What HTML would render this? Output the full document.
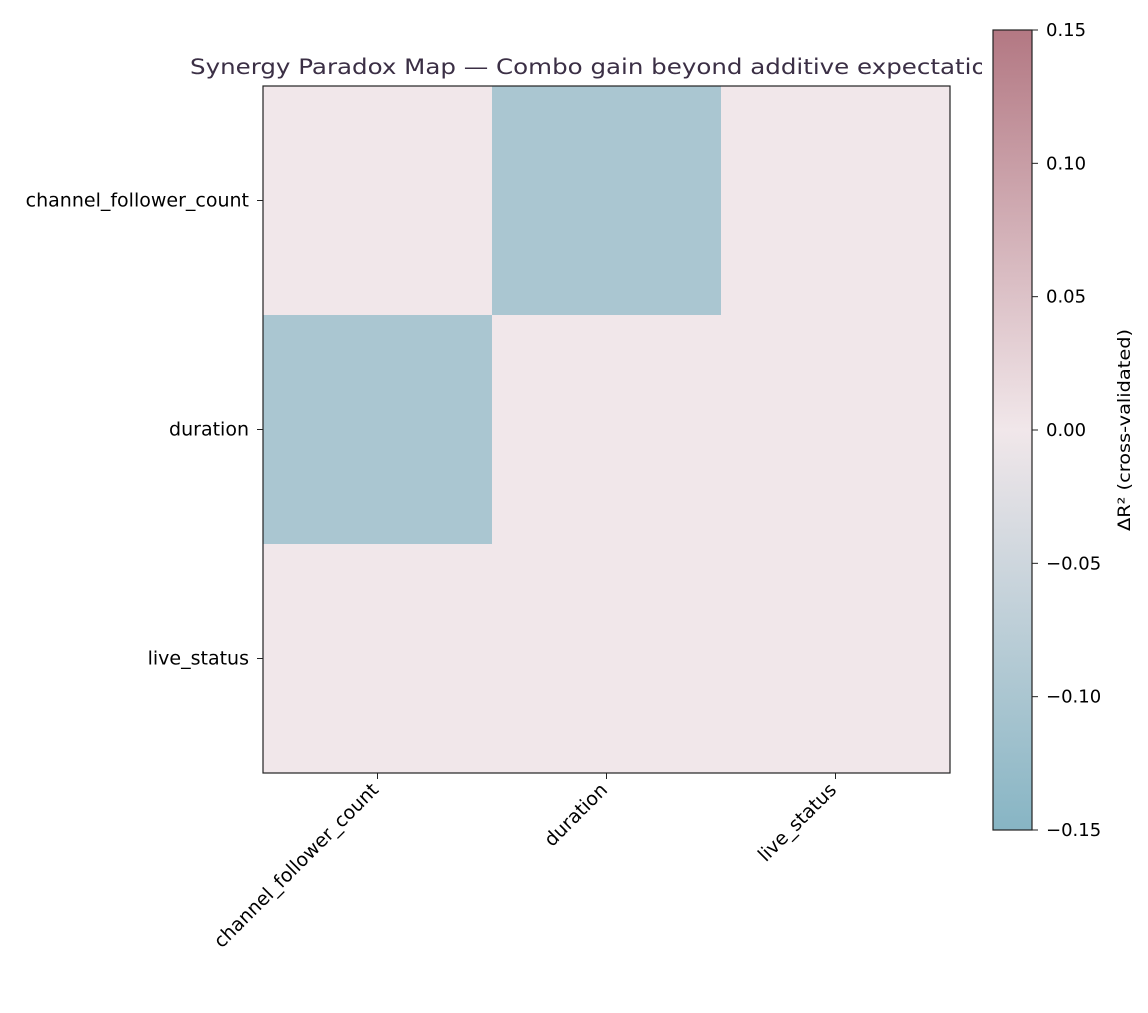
<!DOCTYPE html>
<html><head><meta charset="utf-8"><style>
body{margin:0;background:#fff;font-family:"Liberation Sans","DejaVu Sans",sans-serif}
</style></head><body>
<svg id="chart" width="1148" height="1008" font-family="DejaVu Sans, Liberation Sans, sans-serif">
<defs>
<linearGradient id="cbgrad" x1="0" y1="1" x2="0" y2="0">
<stop offset="0" stop-color="#87b5c4"/><stop offset="0.5" stop-color="#f1e7ea"/><stop offset="1" stop-color="#b37883"/>
</linearGradient>
</defs>
<text x="190" y="74" font-size="21" fill="#3b2f45" textLength="812" lengthAdjust="spacingAndGlyphs">Synergy Paradox Map — Combo gain beyond additive expectation</text>
<g id="cells"></g>
<rect x="263" y="86" width="687" height="687" fill="none" stroke="#222" stroke-width="1.2"/>
<g id="ticks"></g>
<rect x="982" y="20" width="166" height="70" fill="#fff"/>
<rect x="993" y="30" width="39" height="800" fill="url(#cbgrad)" stroke="#222" stroke-width="1.2"/>
<g id="cbticks"></g>
<text transform="translate(1130,430) rotate(-90)" text-anchor="middle" font-size="17" textLength="202" lengthAdjust="spacingAndGlyphs">ΔR² (cross-validated)</text>
</svg>
<script>
const features = ["channel_follower_count","duration","live_status"];
const row0 = [0, -0.10, 0];
const row1 = [-0.10, 0, 0];
const row2 = [0, 0, 0];
const cbTicks = [-0.15,-0.10,-0.05,0.00,0.05,0.10,0.15];
const values=[row0,row1,row2];
const NS="http://www.w3.org/2000/svg";
const x0=263,y0=86,size=687,n=features.length,cw=size/n;
const vmin=-0.15,vmax=0.15,cbTop=30,cbBot=830;
function lerp(a,b,t){return a.map((v,i)=>Math.round(v+(b[i]-v)*t));}
function color(v){const lo=[135,181,196],mid=[241,231,234],hi=[179,120,131];
 const t=Math.max(-1,Math.min(1,v/vmax));return 'rgb('+(t<0?lerp(mid,lo,-t):lerp(mid,hi,t)).join(',')+')';}
function el(tag,attrs,parent){const e=document.createElementNS(NS,tag);for(const k in attrs)e.setAttribute(k,attrs[k]);parent.appendChild(e);return e;}
const cells=document.getElementById('cells'),ticks=document.getElementById('ticks'),cbt=document.getElementById('cbticks');
values.forEach((row,i)=>row.forEach((v,j)=>{
 const r=el('rect',{x:x0+j*cw,y:y0+i*cw,width:cw+0.5,height:cw+0.5,fill:color(v)},cells);
 
 
}));
features.forEach((f,i)=>{
 const cy=y0+(i+0.5)*cw, cx=x0+(i+0.5)*cw;
 el('line',{x1:x0,x2:x0-6,y1:cy,y2:cy,stroke:'#222'},ticks);
 const t=el('text',{x:x0-14,y:cy+6,'text-anchor':'end','font-size':'19'},ticks);t.textContent=f;
 
 
 el('line',{x1:cx,x2:cx,y1:y0+size,y2:y0+size+6,stroke:'#222'},ticks);
 const tx=el('text',{transform:`translate(${cx+2},${y0+size+18}) rotate(-45)`,'text-anchor':'end','font-size':'19'},ticks);tx.textContent=f;
 
 
});
cbTicks.forEach(v=>{
 const y=cbBot-(v-vmin)/(vmax-vmin)*(cbBot-cbTop);
 el('line',{x1:1032,x2:1038,y1:y,y2:y,stroke:'#222'},cbt);
 const t=el('text',{x:1046,y:y+6,'font-size':'18'},cbt);t.textContent=(v<0?'\u2212':'')+Math.abs(v).toFixed(2);
 
 
});
</script>
</body></html>
